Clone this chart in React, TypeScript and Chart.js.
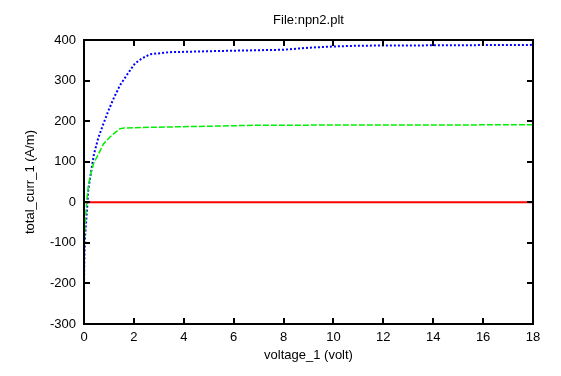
import React, { useEffect, useRef } from "react";
import { Chart, registerables } from "chart.js";

Chart.register(...registerables);

const chartTitle = "File:npn2.plt";
const xTitle = "voltage_1 (volt)";
const yTitle = "total_curr_1 (A/m)";

const blueV = [0, 0.01, 0.04, 0.1, 0.17, 0.27, 0.4, 0.58, 0.78, 0.98, 1.18, 1.44, 1.71, 2.04, 2.31, 2.65, 3.45, 5.45, 8, 9, 10, 11, 18];
const blueI = [-210, -151, -86, -37, 29, 70, 119, 160, 194, 226, 255, 288, 313, 342, 354, 365, 370, 373, 376, 381, 384, 386, 388];

const greenV = [0, 0.04, 0.1, 0.17, 0.24, 0.38, 0.58, 0.78, 1.06, 1.43, 1.6, 2.8, 5.45, 7, 18];
const greenI = [-111, -62, -4, 37, 62, 95, 119, 144, 162, 181, 183, 185, 188, 190, 191];

const redV = [0, 18];
const redI = [0, 0];

const xMin = 0, xMax = 18, xStep = 2;
const yMin = -300, yMax = 400, yStep = 100;

const FONT = "'Liberation Sans', Arial, sans-serif";

const framePlugin = {
  id: "gnuplotFrame",
  afterDraw(chart: any) {
    const { ctx, chartArea } = chart;
    const { left, right, top, bottom } = chartArea;
    const xs = chart.scales.x;
    const ys = chart.scales.y;
    const tl = 6;
    ctx.save();
    ctx.strokeStyle = "#000";
    ctx.lineWidth = 2;
    ctx.strokeRect(left, top, right - left, bottom - top);
    ctx.beginPath();
    xs.ticks.forEach((t: any) => {
      const px = Math.round(xs.getPixelForValue(t.value));
      ctx.moveTo(px, bottom);
      ctx.lineTo(px, bottom - tl);
      ctx.moveTo(px, top);
      ctx.lineTo(px, top + tl);
    });
    ys.ticks.forEach((t: any) => {
      const py = Math.round(ys.getPixelForValue(t.value));
      ctx.moveTo(left, py);
      ctx.lineTo(left + tl, py);
      ctx.moveTo(right, py);
      ctx.lineTo(right - tl, py);
    });
    ctx.stroke();
    ctx.fillStyle = "#000";
    ctx.font = `13px ${FONT}`;
    ctx.textAlign = "center";
    ctx.textBaseline = "middle";
    ctx.fillText(chartTitle, (left + right) / 2, 20);
    ctx.restore();
  },
};

export default function App() {
  const ref = useRef<HTMLCanvasElement>(null);
  useEffect(() => {
    if (!ref.current) return;
    const mk = (xs: number[], ys: number[]) => xs.map((x, i) => ({ x, y: ys[i] }));
    const chart = new Chart(ref.current, {
      type: "line",
      data: {
        datasets: [
          {
            data: mk(redV, redI),
            borderColor: "#ff0000",
            borderWidth: 2,
            pointRadius: 0,
            tension: 0,
          },
          {
            data: mk(greenV, greenI),
            borderColor: "#00ee00",
            borderWidth: 1.5,
            borderDash: [6, 2],
            pointRadius: 0,
            tension: 0,
          },
          {
            data: mk(blueV, blueI),
            borderColor: "#0000ff",
            borderWidth: 2,
            borderDash: [2, 2],
            pointRadius: 0,
            tension: 0,
          },
        ],
      },
      options: {
        responsive: false,
        animation: false,
        devicePixelRatio: 1,
        layout: { padding: { top: 40, right: 28, left: 0, bottom: 0 } },
        plugins: { legend: { display: false }, tooltip: { enabled: false }, title: { display: false } },
        scales: {
          x: {
            type: "linear",
            min: xMin,
            max: xMax,
            grid: { display: false, drawTicks: false },
            border: { display: false },
            ticks: { stepSize: xStep, padding: 6, color: "#000", font: { family: FONT, size: 13 }, maxRotation: 0 },
            title: { display: true, text: xTitle, color: "#000", font: { family: FONT, size: 13 }, padding: { top: 0, bottom: 13 } },
            afterFit: (s: any) => { s.height = 52; },
          },
          y: {
            type: "linear",
            min: yMin,
            max: yMax,
            grid: { display: false, drawTicks: false },
            border: { display: false },
            ticks: { stepSize: yStep, padding: 8, color: "#000", font: { family: FONT, size: 13 } },
            title: { display: true, text: yTitle, color: "#000", font: { family: FONT, size: 13 }, padding: { top: 23, bottom: 0 } },
            afterFit: (s: any) => { s.width = 84; },
          },
        },
      },
      plugins: [framePlugin],
    });
    return () => chart.destroy();
  }, []);
  return (
    <div style={{ position: "fixed", left: 0, top: 0, width: 561, height: 376, background: "#fff" }}>
      <canvas ref={ref} width={561} height={376} />
    </div>
  );
}
